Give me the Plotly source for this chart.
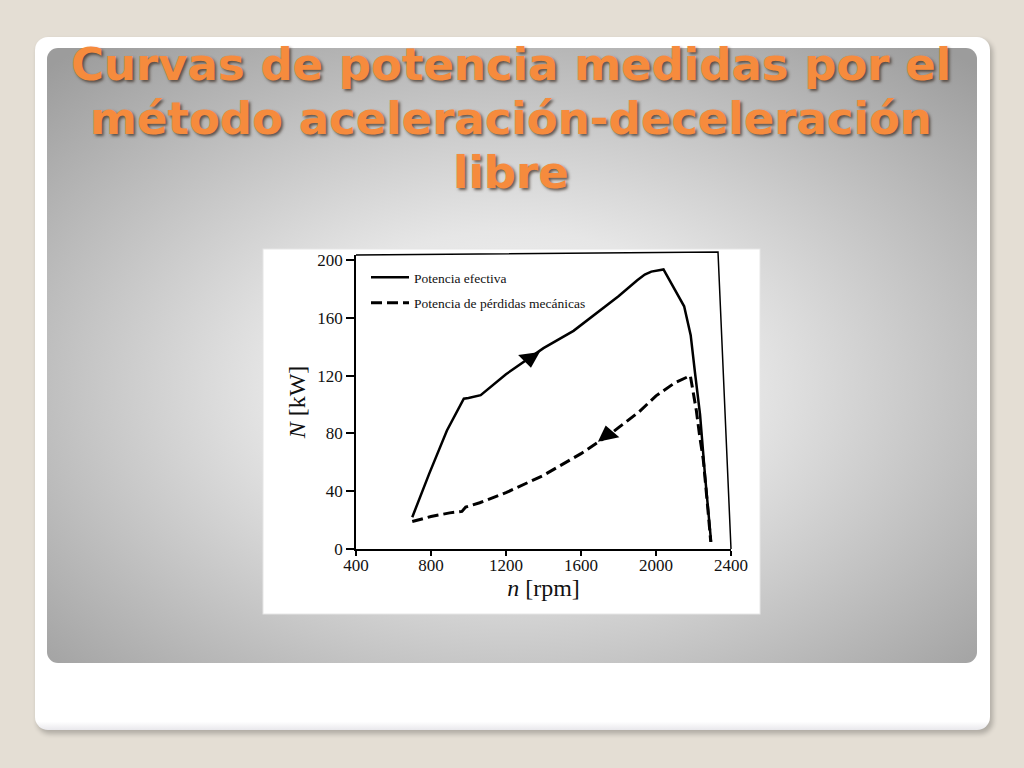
import base64
import plotly.graph_objects as go

# ---- data ----
rpm_efectiva = [700, 790, 885, 975, 1000, 1065, 1200, 1320, 1400, 1560, 1700, 1800,
                1900, 1940, 1975, 2040, 2150, 2185, 2208, 2235, 2262, 2294]
kw_efectiva = [22, 52, 82, 104, 104.5, 106.5, 121, 132, 139, 151, 165, 175,
               186, 190, 192, 193.5, 168, 148, 122, 93, 50, 5]

rpm_perdidas = [700, 800, 900, 965, 985, 1060, 1200, 1320, 1400, 1600, 1750, 1800,
                1910, 2000, 2100, 2183, 2200, 2215, 2233, 2252, 2275, 2292]
kw_perdidas = [19, 22.5, 25, 26, 29, 32, 39, 46, 51, 66, 79, 84,
               95, 106, 115, 120, 108, 96, 78, 62, 30, 5]

arrow_rpm_efectiva = [1326]
arrow_kw_efectiva = [132]
arrow_rpm_perdidas = [1742]
arrow_kw_perdidas = [79]

x_ticks = [400, 800, 1200, 1600, 2000, 2400]
y_ticks = [0, 40, 80, 120, 160, 200]

title_lines = ["Curvas de potencia medidas por el",
               "método aceleración-deceleración",
               "libre"]
legend_names = ["Potencia efectiva", "Potencia de pérdidas mecánicas"]

# ---- page geometry ----
W, H = 1024, 768
L, R, T, B = 356, 293, 255, 219
PW, PH = W - L - R, H - T - B


def fx(px):
    return (px - L) / PW


def fy(py):
    return (H - B - py) / PH


# ---- slide background as an SVG image ----
svg = f"""<svg xmlns='http://www.w3.org/2000/svg' width='{W}' height='{H}' viewBox='0 0 {W} {H}'>
<defs>
<radialGradient id='rg' cx='0.5' cy='0.55' r='0.72'>
<stop offset='0' stop-color='#f7f7f7'/>
<stop offset='0.35' stop-color='#e6e6e6'/>
<stop offset='1' stop-color='#9c9c9c'/>
</radialGradient>
<linearGradient id='cb' x1='0' y1='0' x2='0' y2='1'>
<stop offset='0.988' stop-color='#ffffff'/>
<stop offset='1' stop-color='#e9e8ec'/>
</linearGradient>
<filter id='bl' x='-5%' y='-5%' width='110%' height='110%'><feGaussianBlur stdDeviation='2.5'/></filter>
</defs>
<rect x='0' y='0' width='{W}' height='{H}' fill='#e4ded4'/>
<rect x='37' y='40' width='956' height='694' rx='13' fill='#000' opacity='0.22' filter='url(#bl)'/>
<rect x='35' y='37' width='955' height='693' rx='13' fill='url(#cb)'/>
<rect x='47' y='48' width='930' height='615' rx='11' fill='url(#rg)'/>
<rect x='263' y='249' width='497' height='365' fill='#ffffff' stroke='#e6e6e6' stroke-width='1'/>
</svg>"""
bg_src = "data:image/svg+xml;base64," + base64.b64encode(svg.encode("utf-8")).decode("ascii")

fig = go.Figure()

fig.add_trace(go.Scatter(
    x=rpm_efectiva, y=kw_efectiva, mode="lines", name=legend_names[0],
    legendgroup="a", line=dict(color="black", width=2.5)))
fig.add_trace(go.Scatter(
    x=rpm_perdidas, y=kw_perdidas, mode="lines", name=legend_names[1],
    legendgroup="b", line=dict(color="black", width=3, dash="11px,5px")))
fig.add_trace(go.Scatter(
    x=arrow_rpm_efectiva, y=arrow_kw_efectiva, mode="markers", showlegend=False,
    marker=dict(symbol="triangle-down", size=19, angle=-8, color="black")))
fig.add_trace(go.Scatter(
    x=arrow_rpm_perdidas, y=arrow_kw_perdidas, mode="markers", showlegend=False,
    marker=dict(symbol="triangle-up", size=19, angle=-12, color="black")))

serif = "Liberation Serif, Times New Roman, serif"

fig.update_xaxes(
    range=[400, 2400], tickvals=x_ticks, ticktext=[str(v) for v in x_ticks],
    showgrid=False, zeroline=False, showline=True, linecolor="black", linewidth=1.5,
    ticks="outside", ticklen=5, tickwidth=1.5, tickcolor="black", ticklabelstandoff=-5,
    tickfont=dict(family=serif, size=17, color="#111"),
    title=dict(text="<i>n</i> [rpm]", font=dict(family=serif, size=24, color="#111"), standoff=0))
fig.update_yaxes(
    range=[0, 203.5], tickvals=y_ticks, ticktext=[str(v) for v in y_ticks],
    showgrid=False, zeroline=False, showline=True, linecolor="black", linewidth=1.5,
    ticks="outside", ticklen=8, tickwidth=1.5, tickcolor="black",
    tickfont=dict(family=serif, size=17, color="#111"),
    title=dict(text="<i>N</i> [kW]", font=dict(family=serif, size=24, color="#111"), standoff=5))

shapes = [
    dict(type="path", xref="paper", yref="paper",
         path=f"M {fx(356)},{fy(255)} L {fx(718)},{fy(252)} L {fx(731)},{fy(549)}",
         line=dict(color="black", width=1.5), layer="above"),
]

annotations = []
for txt, yc in zip(title_lines, [65, 119, 173]):
    annotations.append(dict(
        text=txt, xref="paper", yref="paper", x=fx(511), y=fy(yc),
        xanchor="center", yanchor="middle", showarrow=False,
        font=dict(family="DejaVu Sans", size=45, color="#f68b3d", weight="bold",
                  shadow="2px 2px 3px rgba(60,45,35,0.75)")))

fig.update_layout(
    width=W, height=H, autosize=False,
    margin=dict(l=L, r=R, t=T, b=B, pad=0, autoexpand=False),
    paper_bgcolor="#e4ded4", plot_bgcolor="rgba(0,0,0,0)",
    showlegend=True,
    legend=dict(x=fx(366), y=fy(262), xanchor="left", yanchor="top",
                bgcolor="rgba(0,0,0,0)", font=dict(family=serif, size=13.5, color="#111"),
                tracegroupgap=5, itemwidth=38),
    images=[dict(source=bg_src, xref="paper", yref="paper", x=fx(0), y=fy(0),
                 sizex=W / PW, sizey=H / PH, xanchor="left", yanchor="top",
                 sizing="stretch", layer="below")],
    shapes=shapes, annotations=annotations,
)

fig.write_html("out.html", config={"displayModeBar": False},
               post_script="document.body.style.margin='0';document.body.style.overflow='hidden';")
